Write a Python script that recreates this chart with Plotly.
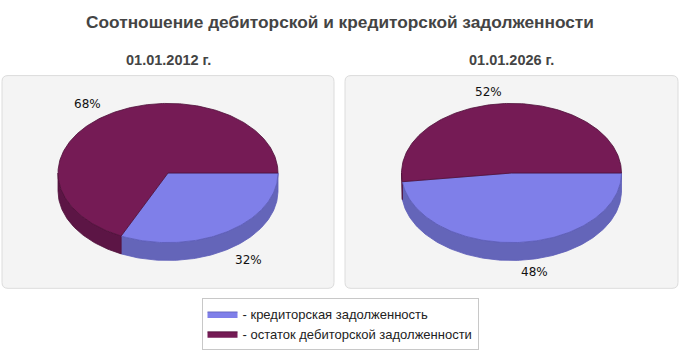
import numpy as np
import plotly.graph_objects as go

# ---------------- data ----------------
chart_title = "Соотношение дебиторской и кредиторской задолженности"
dates = ["01.01.2012 г.", "01.01.2026 г."]
series_names = ["кредиторская задолженность", "остаток дебиторской задолженности"]
kred_share = [32, 48]      # % кредиторская задолженность
deb_share = [68, 52]       # % остаток дебиторской задолженности

# ---------------- style / layout ----------------
W, H = 680, 350
top_colors = ["#7f7fe9", "#751b55"]
side_colors = ["#6465b9", "#5c1545"]
edge_colors = ["#5d5db8", "#4f103a"]
boxes = [(2, 76, 334, 290), (345, 76, 678, 290)]
cy = 174
rx, ry, depth = 110, 70, 18


def arc(cx, cyy, t0, t1):
    n = max(int(abs(t1 - t0) / np.pi * 180) + 2, 2)
    t = np.linspace(t0, t1, n)
    return cx + rx * np.cos(t), cyy + ry * np.sin(t)


def rounded_rect(x0, y0, x1, y1, r):
    return (f"M{x0+r},{y0} L{x1-r},{y0} Q{x1},{y0} {x1},{y0+r} "
            f"L{x1},{y1-r} Q{x1},{y1} {x1-r},{y1} L{x0+r},{y1} "
            f"Q{x0},{y1} {x0},{y1-r} L{x0},{y0+r} Q{x0},{y0} {x0+r},{y0} Z")


fig = go.Figure()
shapes = []
annotations = []

for p, (bx0, by0, bx1, by1) in enumerate(boxes):
    shapes.append(dict(type="path", path=rounded_rect(bx0, by0, bx1, by1, 6),
                       xref="x", yref="y", fillcolor="#f4f4f4",
                       line=dict(color="#dcdcdc", width=1), layer="below"))
    cx = (bx0 + bx1) / 2
    annotations.append(dict(x=cx, y=60, xref="x", yref="y", text=dates[p],
                            showarrow=False,
                            font=dict(family="Liberation Sans, Arial", size=14.5,
                                      color="#444444", weight="bold")))
    vals = [kred_share[p], deb_share[p]]
    total = sum(vals)
    starts, ends = [], []
    acc = 0.0
    for v in vals:
        starts.append(acc / total * 2 * np.pi)
        acc += v
        ends.append(acc / total * 2 * np.pi)

    # side (depth) faces on the front half
    for k in range(len(vals)):
        lo, hi = max(starts[k], 0), min(ends[k], np.pi)
        if hi > lo:
            xt, yt = arc(cx, cy, lo, hi)
            xb, yb = arc(cx, cy + depth, hi, lo)
            fig.add_trace(go.Scatter(
                x=np.concatenate([xt, xb, xt[:1]]),
                y=np.concatenate([yt, yb, yt[:1]]),
                mode="lines", fill="toself", fillcolor=side_colors[k],
                line=dict(color=edge_colors[k], width=0.8),
                hoverinfo="skip", showlegend=False,
                legendgroup=series_names[k]))

    # top faces
    for k in range(len(vals)):
        xa, ya = arc(cx, cy, starts[k], ends[k])
        fig.add_trace(go.Scatter(
            x=np.concatenate([[cx], xa, [cx]]),
            y=np.concatenate([[cy], ya, [cy]]),
            mode="lines", fill="toself", fillcolor=top_colors[k],
            line=dict(color=edge_colors[k], width=0.8),
            name="- " + series_names[k], legendgroup=series_names[k],
            showlegend=(p == 0),
            text=f"{series_names[k]}: {vals[k]}%", hoverinfo="text"))

        m = (starts[k] + ends[k]) / 2
        lx = cx + 1.1 * rx * np.cos(m)
        ly = cy + 1.17 * ry * np.sin(m) + (depth if np.sin(m) > 0 else 0)
        annotations.append(dict(
            x=lx, y=ly, xref="x", yref="y", text=f"{vals[k]}%", showarrow=False,
            xanchor="right" if np.cos(m) < 0 else "left", yanchor="middle",
            font=dict(family="DejaVu Sans, Verdana", size=12, color="#111111")))

fig.update_layout(
    width=W, height=H,
    margin=dict(l=0, r=0, t=0, b=0),
    paper_bgcolor="white", plot_bgcolor="white",
    title=dict(text=chart_title, x=0.5, xanchor="center",
               y=1 - 22 / H, yanchor="middle",
               font=dict(family="Liberation Sans, Arial", size=17.3,
                         color="#444444", weight="bold")),
    xaxis=dict(range=[0, W], visible=False, fixedrange=True),
    yaxis=dict(range=[H, 0], visible=False, fixedrange=True),
    shapes=shapes, annotations=annotations,
    legend=dict(x=0.5, xanchor="center", y=1 - 300 / H, yanchor="top",
                bgcolor="white", bordercolor="#c8c8c8", borderwidth=1,
                font=dict(family="Liberation Sans, Arial", size=13, color="#222222"),
                itemwidth=30, tracegroupgap=0),
    showlegend=True,
)

fig.write_html("out.html")
